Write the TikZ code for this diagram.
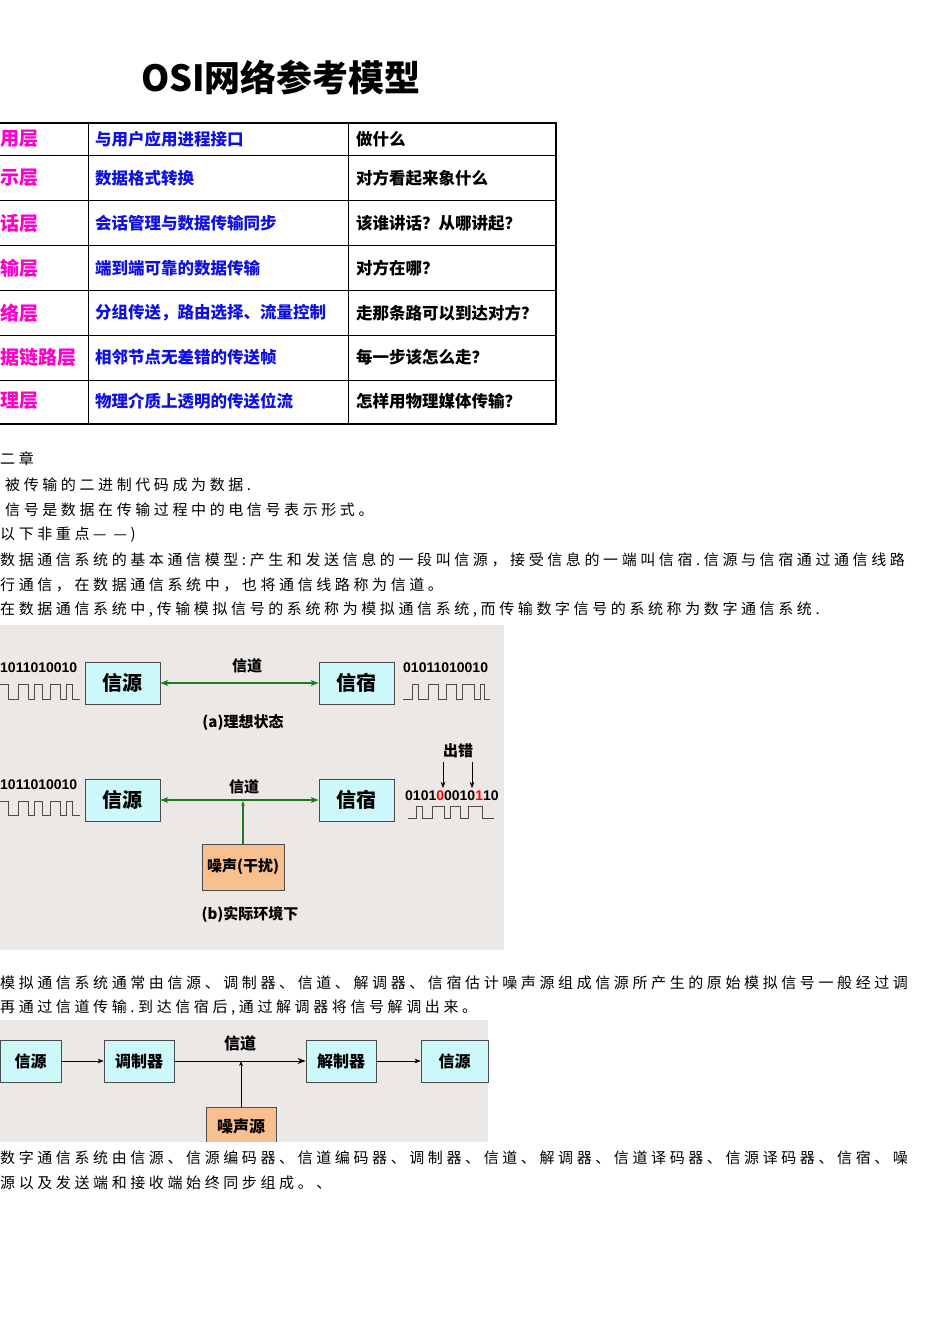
\documentclass[tikz,border=0pt]{standalone}
\usepackage{fontspec}
\setmainfont{Noto Sans CJK SC}
\newfontfamily\cjk[LetterSpace=24]{Noto Sans CJK SC}
\newfontfamily\lat{Liberation Sans}
\usetikzlibrary{arrows.meta}
\definecolor{bgg}{HTML}{ECE8E6}
\definecolor{cyanbox}{HTML}{CCF8FA}
\definecolor{orbox}{HTML}{F9C08F}
\definecolor{grn}{HTML}{1E7A1E}
\definecolor{mag}{HTML}{FF00CC}
\definecolor{blu}{HTML}{1010E0}
\tikzset{
 body/.style={anchor=west,inner sep=0,font=\fontsize{15}{15}\cjk},
 tcell/.style={anchor=west,inner sep=0,font=\fontsize{16.5}{16.5}\bfseries},
 box/.style={draw=black!70,fill=cyanbox,thick,inner sep=0,font=\fontsize{20}{20}\bfseries},
 nbox/.style={draw=black!70,fill=orbox,thick,inner sep=0,font=\fontsize{15}{15}\bfseries},
 lbl/.style={inner sep=0,font=\fontsize{15}{15}\bfseries},
 bits/.style={inner sep=0,font=\fontsize{14}{14}\bfseries\lat},
 wave/.style={draw=black!70,thick},
 garr/.style={draw=grn,very thick,{Stealth[length=8pt]}-{Stealth[length=8pt]}},
}
\begin{document}
\begin{tikzpicture}[x=1pt,y=-1pt]
\useasboundingbox (0,0) rectangle (950,1344);
\fill[white] (0,0) rectangle (950,1344);
\node[font=\fontsize{36}{36}\bfseries] (title) at (281,78) {OSI网络参考模型};
% table
\draw[line width=1.5pt] (0,123) -- (556,123) -- (556,424) -- (0,424);
\foreach \y in {155,200,245,290,335,380} \draw[thin] (0,\y) -- (556,\y);
\draw[thin] (88,123) -- (88,424);
\draw[thin] (348,123) -- (348,424);
\begin{scope}[every node/.style={tcell}]
\node[text=mag,font=\fontsize{19}{19}\bfseries] (l1) at (0,139) {用层};
\node[text=mag,font=\fontsize{19}{19}\bfseries] (l2) at (0,178) {示层};
\node[text=mag,font=\fontsize{19}{19}\bfseries] (l3) at (0,223) {话层};
\node[text=mag,font=\fontsize{19}{19}\bfseries] (l4) at (0,268) {输层};
\node[text=mag,font=\fontsize{19}{19}\bfseries] (l5) at (0,313) {络层};
\node[text=mag,font=\fontsize{19}{19}\bfseries] (l6) at (0,357) {据链路层};
\node[text=mag,font=\fontsize{19}{19}\bfseries] (l7) at (0,401) {理层};
\node[text=blu] (m1) at (95,139) {与用户应用进程接口};
\node[text=blu] (m2) at (95,178) {数据格式转换};
\node[text=blu] (m3) at (95,223) {会话管理与数据传输同步};
\node[text=blu] (m4) at (95,268) {端到端可靠的数据传输};
\node[text=blu] (m5) at (95,313) {分组传送，路由选择、流量控制};
\node[text=blu] (m6) at (95,357) {相邻节点无差错的传送帧};
\node[text=blu] (m7) at (95,401) {物理介质上透明的传送位流};
\node (r1) at (356,139) {做什么};
\node (r2) at (356,178) {对方看起来象什么};
\node (r3) at (356,223) {该谁讲话？从哪讲起？};
\node (r4) at (356,268) {对方在哪？};
\node (r5) at (356,313) {走那条路可以到达对方？};
\node (r6) at (356,357) {每一步该怎么走？};
\node (r7) at (356,401) {怎样用物理媒体传输？};
\end{scope}
% body text
\begin{scope}[every node/.style={body}]
\node (t1) at (0,459) {二章};
\node (t2) at (5,485) {被传输的二进制代码成为数据.};
\node (t3) at (5,510) {信号是数据在传输过程中的电信号表示形式。};
\node (t4) at (0,535) {以下非重点— —)};
\node (t5) at (0,560) {数据通信系统的基本通信模型:产生和发送信息的一段叫信源，接受信息的一端叫信宿.信源与信宿通过通信线路};
\node (t6) at (0,585) {行通信，在数据通信系统中，也将通信线路称为信道。};
\node (t7) at (0,610) {在数据通信系统中,传输模拟信号的系统称为模拟通信系统,而传输数字信号的系统称为数字通信系统.};
\node (t8) at (0,983) {模拟通信系统通常由信源、调制器、信道、解调器、信宿估计噪声源组成信源所产生的原始模拟信号一般经过调};
\node (t9) at (0,1008) {再通过信道传输.到达信宿后,通过解调器将信号解调出来。};
\node (t10) at (0,1158) {数字通信系统由信源、信源编码器、信道编码器、调制器、信道、解调器、信道译码器、信源译码器、信宿、噪};
\node (t11) at (0,1183) {源以及发送端和接收端始终同步组成。、};
\end{scope}
% diagram 1
\fill[bgg] (0,625) rectangle (504,950);
\node[box,minimum width=75pt,minimum height=42pt] (s1) at (122.5,683) {信源};
\node[box,minimum width=75pt,minimum height=42pt] (d1) at (356.5,683) {信宿};
\draw[garr] (s1) -- (d1);
\node[lbl] (c1) at (247,666) {信道};
\node[bits,anchor=west] (b1) at (0,668) {1011010010};
\node[bits,anchor=west] (b2) at (403,668) {01011010010};
\draw[wave] (0,684) -| (8,699) -| (18,684) -| (28,699) -| (34,684) -| (42,699) -| (50,684) -| (60,699) -| (66,684) -| (72,699) -- (80,699);
\draw[wave] (403,699) -| (412,684) -| (418,699) -| (428,684) -| (438,699) -| (446,684) -| (456,699) -| (462,684) -| (474,699) -| (480,684) -| (484,699) -- (490,699);
\node[lbl] (ca) at (243,723) {(a)理想状态};
% row b
\node[box,minimum width=75pt,minimum height=42pt] (s2) at (122.5,800) {信源};
\node[box,minimum width=75pt,minimum height=42pt] (d2) at (356.5,800) {信宿};
\draw[garr] (s2) -- (d2);
\node[lbl] (c2) at (244,787) {信道};
\node[bits,anchor=west] (b3) at (0,785) {1011010010};
\draw[wave] (0,801) -| (8,815) -| (18,801) -| (28,815) -| (34,801) -| (42,815) -| (50,801) -| (60,815) -| (66,801) -| (72,815) -- (80,815);
\node[bits,anchor=west] (b4) at (405,796) {0101\textcolor{red}{0}0010\textcolor{red}{1}10};
\draw[wave] (408,818) -| (416,806) -| (422,818) -| (432,806) -| (444,818) -| (450,806) -| (460,818) -| (468,806) -| (482,818) -- (494,818);
\node[lbl] (err) at (458,751) {出错};
\coordinate (e1) at (443,762); \coordinate (e1b) at (443,788);
\coordinate (e2) at (472,762); \coordinate (e2b) at (472,788);
\draw[-{Stealth[length=6pt]}] (e1) -- (e1b);
\draw[-{Stealth[length=6pt]}] (e2) -- (e2b);
\node[nbox,minimum width=82pt,minimum height=46pt] (n1) at (243,867) {噪声(干扰)};
\coordinate (j1) at (243,801);
\draw[grn,very thick,-{Stealth[length=5pt]}] (n1.north) -- (j1);
\node[lbl] (cb) at (250,914) {(b)实际环境下};
% diagram 2
\fill[bgg] (0,1020) rectangle (488,1142);
\begin{scope}[every node/.style={box,font=\fontsize{16}{16}\bfseries,minimum height=42pt}]
\node[minimum width=61pt] (q1) at (30.5,1061) {信源};
\node[minimum width=70pt] (q2) at (139,1061) {调制器};
\node[minimum width=70pt] (q3) at (341,1061) {解制器};
\node[minimum width=67pt] (q4) at (454.5,1061) {信源};
\end{scope}
\draw[-{Stealth[length=6pt]}] (q1) -- (q2);
\draw[thick,-{Stealth[length=8pt]}] (q2) -- (q3);
\draw[-{Stealth[length=6pt]}] (q3) -- (q4);
\node[lbl,font=\fontsize{16}{16}\bfseries] (c3) at (240,1043) {信道};
\node[nbox,font=\fontsize{16}{16}\bfseries,minimum width=70pt,minimum height=38pt,anchor=north] (n2) at (241,1107) {噪声源};
\coordinate (j2) at (241,1061);
\draw[-{Stealth[length=5pt]}] (n2.north) -- (j2);
\fill[white] (0,1142) rectangle (490,1150);
\end{tikzpicture}
\end{document}
